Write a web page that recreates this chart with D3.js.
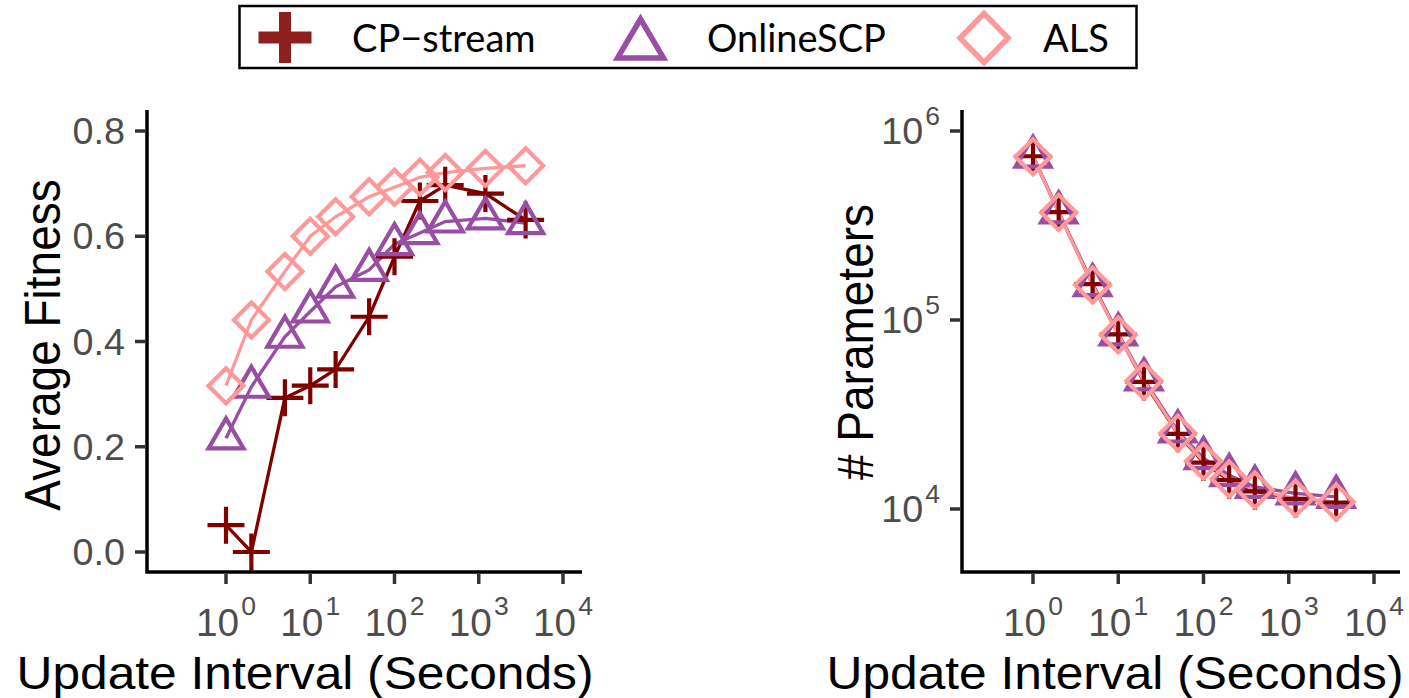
<!DOCTYPE html>
<html>
<head>
<meta charset="utf-8">
<script src="https://cdn.jsdelivr.net/npm/d3@7"></script>
<style>
  body { margin: 0; background: #fff; }
</style>
</head>
<body>
<div id="chart"></div>
<script>
var seconds = [1, 2, 5, 10, 20, 50, 100, 200, 400, 1200, 3600];

var fitCP     = [0.051, 0.0, 0.293, 0.316, 0.347, 0.447, 0.561, 0.667, 0.697, 0.681, 0.631];
var fitOnline = [0.216, 0.314, 0.409, 0.457, 0.504, 0.536, 0.585, 0.606, 0.628, 0.634, 0.625];
var fitALS    = [0.316, 0.441, 0.533, 0.600, 0.637, 0.675, 0.693, 0.712, 0.721, 0.729, 0.734];

var parCP     = [735000, 372000, 155000, 84000, 47000, 25000, 17600, 14200, 12400, 11300, 10800];
var parOnline = [731000, 371000, 153000, 84000, 48500, 25700, 18600, 15100, 13100, 12100, 11600];
var parALS    = [731000, 371000, 153000, 83400, 47600, 25200, 17900, 14400, 12600, 11400, 10900];

var seriesNames = ['CP\u2212stream', 'OnlineSCP', 'ALS'];
var seriesColors = ['#800000', '#984ea3', '#ff9999'];
var legendColors = ['#8e1f1f', '#984ea3', '#ff9999'];
var seriesShapes = ['cross', 'triangle', 'diamond'];

var xTicks = [1, 10, 100, 1000, 10000];
var fitTicks = [0, 0.2, 0.4, 0.6, 0.8];
var parTicks = [1e4, 1e5, 1e6];

var width = 1409, height = 698;
var sxTitle = 1.08, sxTick = 1.02;
var axisFont = '"Liberation Sans", Arial, Helvetica, sans-serif';

var svg = d3.select('#chart').append('svg')
  .attr('width', width)
  .attr('height', height)
  .style('font-family', axisFont);

// w: half width, h: half height
function shapePath(shape, w, h) {
  if (shape === 'cross') return 'M' + (-w) + ',0H' + w + 'M0,' + (-h) + 'V' + h;
  if (shape === 'triangle') {
    return 'M0,' + (-h * 4 / 3) + 'L' + w + ',' + (h * 2 / 3) + 'L' + (-w) + ',' + (h * 2 / 3) + 'Z';
  }
  return 'M0,' + (-h) + 'L' + w + ',0L0,' + h + 'L' + (-w) + ',0Z';
}

function expLabel(lab, t, big, small, up) {
  lab.append('tspan').style('font-size', big + 'px').text('10');
  lab.append('tspan').attr('dx', 2).attr('dy', -up).style('font-size', small + 'px').text(Math.round(Math.log10(t)));
}

function panel(opts) {
  var g = svg.append('g');
  var x = d3.scaleLog().domain([1, 10000]).range(opts.xr);
  var x0 = x.invert(opts.left), x1 = x.invert(opts.right);
  x.domain([x0, x1]).range([opts.left, opts.right]);
  var y = opts.y;

  // lines first
  opts.series.forEach(function (vals, i) {
    var line = d3.line()
      .x(function (d, j) { return x(seconds[j]); })
      .y(function (d) { return y(d); });
    g.append('path')
      .datum(vals)
      .attr('d', line)
      .attr('fill', 'none')
      .attr('stroke', seriesColors[i])
      .attr('stroke-width', 3.3);
  });

  // then points
  opts.series.forEach(function (vals, i) {
    var s = seriesShapes[i];
    var w = s === 'cross' ? 18.5 : 17.5;
    var h = s === 'cross' ? 18.5 : (s === 'triangle' ? 15 : 17.5);
    g.selectAll('.pt' + i)
      .data(vals)
      .enter().append('path')
      .attr('transform', function (d, j) { return 'translate(' + x(seconds[j]) + ',' + y(d) + ')'; })
      .attr('d', shapePath(s, w, h))
      .attr('fill', 'none')
      .attr('stroke', seriesColors[i])
      .attr('stroke-width', 4.2);
  });

  // axis lines
  g.append('path')
    .attr('d', 'M' + opts.left + ',' + opts.top + 'V' + opts.bottom + 'H' + opts.right)
    .attr('fill', 'none')
    .attr('stroke', '#000')
    .attr('stroke-width', 3.5);

  // x ticks
  xTicks.forEach(function (t) {
    var px = x(t);
    g.append('line')
      .attr('x1', px).attr('x2', px)
      .attr('y1', opts.bottom + 2).attr('y2', opts.bottom + 12)
      .attr('stroke', '#333').attr('stroke-width', 3.5);
    var lab = g.append('text')
      .attr('transform', 'translate(' + px + ',' + 636 + ') scale(' + sxTick + ',1)')
      .attr('text-anchor', 'middle')
      .attr('fill', '#4d4d4d')
      .style('font-family', axisFont);
    expLabel(lab, t, 38, 26, 21);
  });

  // y ticks
  opts.yTicks.forEach(function (t) {
    var py = y(t);
    g.append('line')
      .attr('x1', opts.left - 12).attr('x2', opts.left - 2)
      .attr('y1', py).attr('y2', py)
      .attr('stroke', '#333').attr('stroke-width', 3.5);
    var lab = g.append('text')
      .attr('transform', 'translate(' + (opts.left - 22) + ',' + (py + 13) + ') scale(' + sxTick + ',1)')
      .attr('text-anchor', 'end')
      .attr('fill', '#4d4d4d')
      .style('font-family', axisFont)
      .style('font-size', '37px');
    opts.yLabel(lab, t);
  });

  // titles
  g.append('text')
    .attr('transform', 'translate(' + opts.xTitleX + ',689) scale(' + sxTitle + ',1)')
    .attr('text-anchor', 'middle')
    .style('font-family', axisFont)
    .style('font-size', '46px')
    .text('Update Interval (Seconds)');
  g.append('text')
    .attr('transform', 'translate(' + opts.yTitleX + ',' + opts.yTitleY + ') scale(' + sxTitle + ',1) rotate(-90)')
    .attr('text-anchor', 'middle')
    .style('font-family', axisFont)
    .style('font-size', '46px')
    .text(opts.yTitle);
}

var yFit = d3.scaleLinear().domain([0, 0.8]).range([552, 131]);
panel({
  left: 147, right: 582, top: 110, bottom: 572,
  xr: [226, 563],
  y: yFit,
  yTicks: fitTicks,
  yLabel: function (lab, t) { lab.text(d3.format('.1f')(t)); },
  series: [fitCP, fitOnline, fitALS],
  xTitleX: 305,
  yTitleX: 60, yTitleY: 345,
  yTitle: 'Average Fitness'
});

var yPar = d3.scaleLog().domain([1e4, 1e6]).range([509, 131]);
panel({
  left: 962, right: 1400, top: 110, bottom: 572,
  xr: [1033, 1374],
  y: yPar,
  yTicks: parTicks,
  yLabel: function (lab, t) { expLabel(lab, t, 37, 26, 19); },
  series: [parCP, parOnline, parALS],
  xTitleX: 1115,
  yTitleX: 873, yTitleY: 342,
  yTitle: '# Parameters'
});

// legend
var leg = svg.append('g');
leg.append('rect')
  .attr('x', 239.5).attr('y', 6).attr('width', 897).attr('height', 62)
  .attr('fill', '#fff').attr('stroke', '#000').attr('stroke-width', 2.5);
var legSym = [285, 640.5, 984];
var legSymY = [37.5, 45, 38];
var legText = [352, 707, 1043];
seriesNames.forEach(function (name, i) {
  var s = seriesShapes[i];
  var w = s === 'cross' ? 26.5 : (s === 'triangle' ? 23 : 24);
  var h = s === 'cross' ? 25.5 : (s === 'triangle' ? 19.5 : 24.5);
  leg.append('path')
    .attr('transform', 'translate(' + legSym[i] + ',' + legSymY[i] + ')')
    .attr('d', shapePath(s, w, h))
    .attr('fill', 'none')
    .attr('stroke', legendColors[i])
    .attr('stroke-width', s === 'cross' ? 12 : 5.5)
    .attr('stroke-linejoin', 'miter');
  leg.append('text')
    .attr('x', legText[i]).attr('y', 52)
    .style('font-family', 'Lato, "Open Sans", sans-serif')
    .style('font-size', '38px')
    .text(name);
});
</script>
</body>
</html>
